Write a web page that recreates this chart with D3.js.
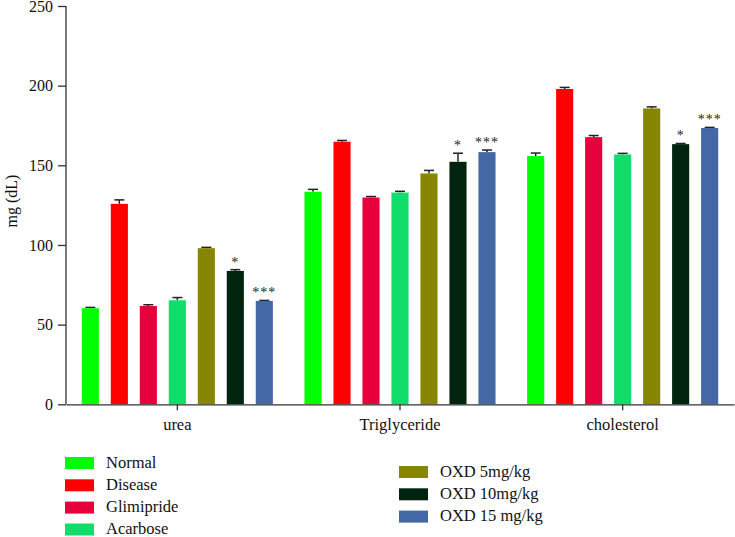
<!DOCTYPE html>
<html><head><meta charset="utf-8">
<script src="https://cdn.jsdelivr.net/npm/d3@7"></script>
<style>body{margin:0;background:#fff}svg{display:block}text{font-family:"Liberation Serif","DejaVu Serif",serif;fill:#111}</style>
</head><body><svg id="c" width="735" height="537"></svg>
<script>
const categories = ["urea", "Triglyceride", "cholesterol"];
const series = ["Normal", "Disease", "Glimipride", "Acarbose", "OXD 5mg/kg", "OXD 10mg/kg", "OXD 15 mg/kg"];
const colors = ["#00ff00", "#ff0000", "#e8003c", "#10dd6a", "#868600", "#01240f", "#4467a6"];
const means = {
  "urea":         [60.3, 125.8, 61.7, 65.3, 98.0, 83.7, 64.9],
  "Triglyceride": [133.4, 164.8, 129.8, 132.9, 144.9, 152.2, 158.3],
  "cholesterol":  [155.8, 197.9, 167.7, 156.8, 185.7, 163.3, 173.4]
};
const errors = {
  "urea":         [0.5, 2.5, 0.8, 1.7, 0.5, 0.8, 0.3],
  "Triglyceride": [1.5, 0.8, 0.6, 0.8, 1.9, 5.4, 1.3],
  "cholesterol":  [1.9, 1.0, 1.0, 0.7, 1.0, 0.4, 0.4]
};
const significance = ["", "", "", "", "", "*", "***"];
const yTicks = [0, 50, 100, 150, 200, 250];
const yLabel = "mg (dL)";

const svg = d3.select("#c");
const x0 = d3.scaleBand().domain(categories).range([66, 734]).paddingInner(0).paddingOuter(0);
const x1 = d3.scaleBand().domain(series).range([0, x0.bandwidth()]).paddingInner(0.41).paddingOuter(0.545);
const y = d3.scaleLinear().domain([0, 250]).range([404.3, 6]);
const color = d3.scaleOrdinal().domain(series).range(colors);

// bars
const g = svg.append("g");
categories.forEach(cat => {
  const gg = g.append("g").attr("transform", `translate(${x0(cat)},0)`);
  series.forEach((s, i) => {
    const v = means[cat][i], e = errors[cat][i];
    const cx = x1(s) + x1.bandwidth() / 2;
    gg.append("line").attr("x1", cx).attr("x2", cx).attr("y1", y(v)).attr("y2", y(v + e))
      .attr("stroke", "#222").attr("stroke-width", 1.5);
    gg.append("line").attr("x1", cx - 5).attr("x2", cx + 5).attr("y1", y(v + e)).attr("y2", y(v + e))
      .attr("stroke", "#222").attr("stroke-width", 1.5);
    gg.append("rect").attr("x", x1(s)).attr("width", x1.bandwidth())
      .attr("y", y(v)).attr("height", y(0) - y(v)).attr("fill", color(s));
    if (significance[i]) {
      gg.append("text").attr("x", cx).attr("y", y(v + e) - 3).attr("text-anchor", "middle")
        .attr("fill", "#222").style("fill", "#222")
        .style("font-size", "14px").style("letter-spacing", "1px").text(significance[i]);
    }
  });
});

// y axis
const yAxis = svg.append("g").attr("transform", "translate(66,0)")
  .call(d3.axisLeft(y).tickValues(yTicks).tickSize(8).tickPadding(5));
yAxis.selectAll("text").style("font-size", "16px").style("font-family", '"Liberation Serif",serif').attr("fill", "#111");
yAxis.selectAll("line,path").attr("stroke", "#333").attr("stroke-width", 1.3);
yAxis.select(".domain").attr("d", `M0,${y(250)}V${y(0)}`);

// x axis
const xAxis = svg.append("g").attr("transform", `translate(0,${y(0)})`)
  .call(d3.axisBottom(x0).tickSize(6).tickPadding(8).tickSizeOuter(0));
xAxis.selectAll("text").style("font-size", "16.5px").style("font-family", '"Liberation Serif",serif').attr("fill", "#111");
xAxis.selectAll("line,path").attr("stroke", "#333").attr("stroke-width", 1.3);

svg.append("text").attr("transform", "translate(17,201) rotate(-90)").attr("text-anchor", "middle")
  .style("font-size", "16px").text(yLabel);

// legend
const legendPos = [
  {x: 65, y: 463}, {x: 65, y: 485.3}, {x: 65, y: 507.6}, {x: 65, y: 529.5},
  {x: 399, y: 472}, {x: 399, y: 494.3}, {x: 399, y: 516.6}
];
series.forEach((s, i) => {
  const p = legendPos[i];
  svg.append("rect").attr("x", p.x).attr("y", p.y - 6).attr("width", 29).attr("height", 12).attr("fill", color(s));
  svg.append("text").attr("x", p.x + 41).attr("y", p.y + 4.5).style("font-size", "16.5px").text(s);
});
</script></body></html>
